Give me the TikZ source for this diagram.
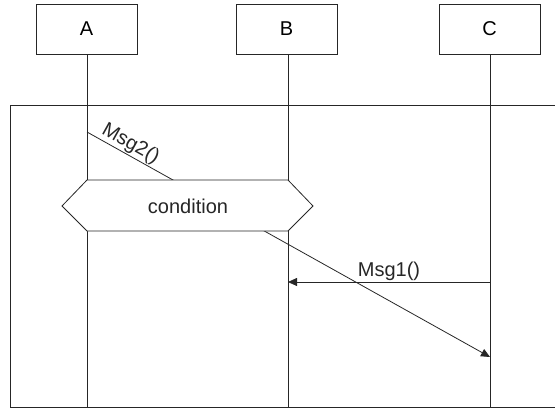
\documentclass[tikz,border=0pt]{standalone}
\usepackage{fontspec}
\setmainfont{Liberation Sans}
\usetikzlibrary{arrows.meta}
\begin{document}
\begin{tikzpicture}[x=1pt,y=-1pt,
  ink/.style={draw=black!85,line width=0.8pt},
  actor/.style={ink,fill=white,minimum width=101pt,minimum height=50pt,inner sep=0pt,
    font=\fontsize{20}{23}\selectfont},
  lifeline/.style={ink},
  msg/.style={ink,-{Triangle[length=9pt,width=8pt]}},
  lbl/.style={font=\fontsize{20}{23}\selectfont,text=black!85,inner sep=2pt},
  guard/.style={ink,fill=white}]
  \useasboundingbox (0,0) rectangle (555,410);

  % interaction frame (its right side runs past the page edge)
  \draw[ink] (560,105) -- (10,105) -- (10,407) -- (560,407);

  % participants
  \node[actor] (A) at (86.5,29) {A};
  \node[actor] (B) at (286.5,29) {B};
  \node[actor] (C) at (489.5,29) {C};

  % lifeline ends
  \coordinate (Aend) at (87,407);
  \coordinate (Bend) at (288,407);
  \coordinate (Cend) at (490,407);
  \draw[lifeline] (A.south -| Aend) -- (Aend);
  \draw[lifeline] (B.south -| Bend) -- (Bend);
  \draw[lifeline] (C.south -| Cend) -- (Cend);

  % message end points on the lifelines
  \coordinate (m2from) at (87,132);
  \coordinate (m2to) at (490,357);
  \coordinate (m1from) at (490,282);
  \coordinate (m1to) at (288,282);

  % Msg2: A to C, crossing behind the condition
  \draw[msg] (m2from) -- node[lbl,pos=0.095,sloped,above,inner sep=1pt] {Msg2()} (m2to);

  % condition (hexagon)
  \draw[guard] (62,206) -- (87,180) -- (288,180) -- (313,206) -- (288,231) -- (87,231) -- cycle;
  \node[lbl] (cond) at (188,206) {condition};

  % Msg1: C to B
  \draw[msg] (m1from) -- node[lbl,above,inner sep=1pt] {Msg1()} (m1to);
\end{tikzpicture}
\end{document}
